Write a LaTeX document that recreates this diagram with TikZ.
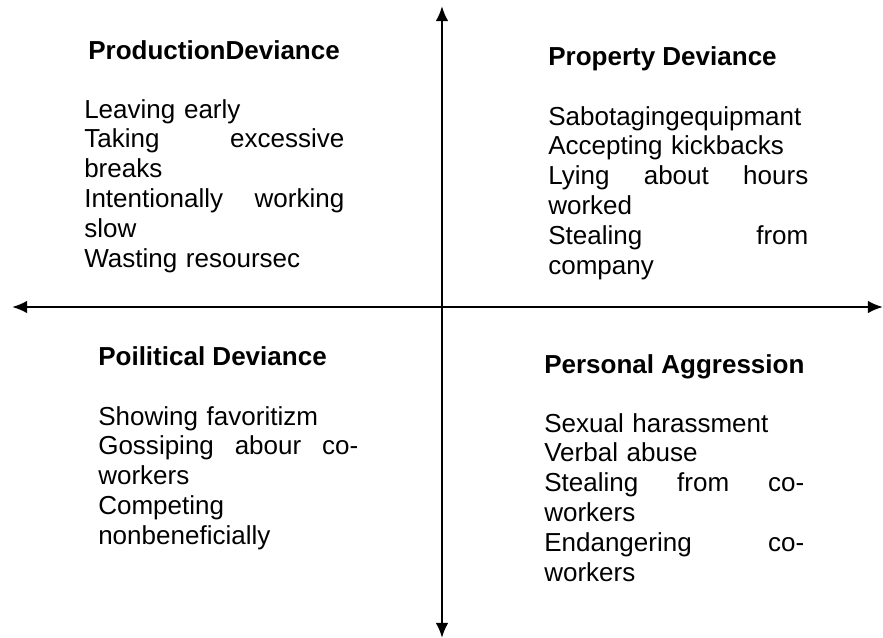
\documentclass[tikz,border=0pt]{standalone}
\usepackage{fontspec}
\setmainfont{Liberation Sans}
\usetikzlibrary{arrows.meta}

\begin{document}
\begin{tikzpicture}[x=0.025cm, y=-0.025cm,
    axis/.style={{Latex[length=0.38cm, width=0.32cm]}-{Latex[length=0.38cm, width=0.32cm]},
        line width=1.6pt},
    head/.style={anchor=base west, inner sep=0pt, font=\fontsize{18.5}{21}\selectfont\bfseries},
    items/.style={anchor=base west, inner sep=0pt, text width=6.5cm, align=left,
        font=\fontsize{18.5}{21.3}\selectfont}]
        \useasboundingbox (0, 0) rectangle (883, 638);

        % axes
        \coordinate (west) at (12, 307);
        \coordinate (east) at (883, 307);
        \coordinate (north) at (442, 6);
        \coordinate (south) at (442, 638);
        \draw[axis] (west) -- (east);
        \draw[axis] (south) -- (north);

        % top left
        \node (prodhead) [head] at (88, 59) {ProductionDeviance};
        \node (prodlist) [items] at (84, 118) {Leaving early\\
            Taking \hfill excessive\\
            breaks\\
            Intentionally \hfill working\\
            slow\\
            Wasting resoursec};

        % top right
        \node (prophead) [head] at (548, 65) {Property Deviance};
        \node (proplist) [items] at (548, 125) {Sabotagingequipmant\\
            Accepting kickbacks\\
            Lying \hfill about \hfill hours\\
            worked\\
            Stealing \hfill from\\
            company};

        % bottom left
        \node (polhead) [head] at (98, 365) {Poilitical Deviance};
        \node (pollist) [items] at (98, 425) {Showing favoritizm\\
            Gossiping \hfill abour \hfill co-\\
            workers\\
            Competing\\
            nonbeneficially};

        % bottom right
        \node (perhead) [head] at (544, 373) {Personal Aggression};
        \node (perlist) [items] at (544, 432) {Sexual harassment\\
            Verbal abuse\\
            Stealing \hfill from \hfill co-\\
            workers\\
            Endangering \hfill co-\\
            workers};
    \end{tikzpicture}
\end{document}
